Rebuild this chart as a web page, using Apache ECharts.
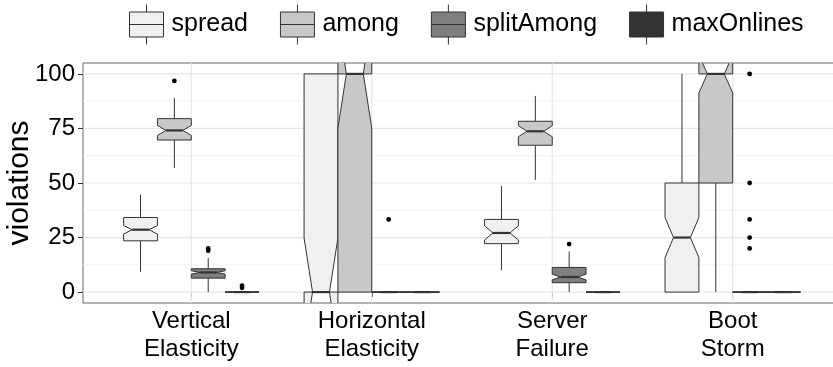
<!DOCTYPE html>
<html>
<head>
<meta charset="utf-8">
<script src="https://cdn.jsdelivr.net/npm/echarts@6/dist/echarts.min.js"></script>
<style>
html, body { margin: 0; padding: 0; background: #fff; }
#chart { width: 833px; height: 367px; }
</style>
</head>
<body>
<div id="chart"></div>
<script>
const categories = ['Vertical\nElasticity', 'Horizontal\nElasticity', 'Server\nFailure', 'Boot\nStorm'];
const groups = ['spread', 'among', 'splitAmong', 'maxOnlines'];
const fills = ['#f0f0f0', '#c8c8c8', '#7f7f7f', '#333333'];

// [lower whisker, q1, median, q3, upper whisker] per category
const spreadStats = [[9.3, 23.5, 28.6, 34.2, 44.6], [0, 0, 0, 100, 100], [10.1, 22.2, 27.1, 33.3, 48.6], [0, 0, 25, 50, 100]];
const amongStats = [[56.9, 69.7, 74.1, 79.5, 89.0], [0, 0, 100, 100, 100], [51.4, 67.3, 73.7, 78.3, 89.9], [0, 50, 100, 100, 100]];
const splitAmongStats = [[0, 6.4, 9.0, 10.7, 15.6], [0, 0, 0, 0, 0], [0, 4.3, 6.9, 11.3, 18.6], [0, 0, 0, 0, 0]];
const maxOnlinesStats = [[0, 0, 0, 0, 0], [0, 0, 0, 0, 0], [0, 0, 0, 0, 0], [0, 0, 0, 0, 0]];

// notch [lower, upper]
const spreadNotch = [[26.6, 30.5], [-24.8, 24.8], [23.9, 30.4], [15.8, 34.2]];
const amongNotch = [[71.8, 76.4], [75.2, 124.8], [71.2, 76.3], [91.3, 108.7]];
const splitAmongNotch = [[8.2, 9.8], [0, 0], [5.6, 8.2], [0, 0]];
const maxOnlinesNotch = [[0, 0], [0, 0], [0, 0], [0, 0]];

// outlier points
const spreadOut = [[], [], [], []];
const amongOut = [[96.8], [], [], []];
const splitAmongOut = [[19, 20], [33.3], [22], [100, 50, 33.3, 25, 20]];
const maxOnlinesOut = [[2, 3], [], [], []];

const yTicks = [0, 25, 50, 75, 100];
const yMinor = [12.5, 37.5, 62.5, 87.5];
const xTicks = [1, 2, 3, 4];

const allStats = [spreadStats, amongStats, splitAmongStats, maxOnlinesStats];
const allNotch = [spreadNotch, amongNotch, splitAmongNotch, maxOnlinesNotch];
const allOut = [spreadOut, amongOut, splitAmongOut, maxOnlinesOut];

const boxWidth = 0.75 / 4;
const offsets = [-1.5, -0.5, 0.5, 1.5].map(k => k * boxWidth);
const ink = '#333333';

function makeBoxRender(gi) {
    return function (params, api) {
        const ci = api.value(0);
        const xc = ci + 1 + offsets[gi];
        const halfW = api.size([boxWidth, 0])[0] / 2;
        const px = api.coord([xc, 0])[0];
        const y = v => api.coord([xc, v])[1];
        const lo = api.value(1), q1 = api.value(2), med = api.value(3), q3 = api.value(4), hi = api.value(5);
        const nlo = api.value(6), nhi = api.value(7);
        const xmin = px - halfW, xmax = px + halfW, ind = halfW * 0.5;
        let children = [];
        children.push({ type: 'line', shape: { x1: px, y1: y(hi), x2: px, y2: y(q3) }, style: { stroke: ink, lineWidth: 1 } });
        children.push({ type: 'line', shape: { x1: px, y1: y(q1), x2: px, y2: y(lo) }, style: { stroke: ink, lineWidth: 1 } });
        children.push({
            type: 'polygon',
            shape: { points: [[xmin, y(q3)], [xmin, y(nhi)], [xmin + ind, y(med)], [xmin, y(nlo)], [xmin, y(q1)],
                              [xmax, y(q1)], [xmax, y(nlo)], [xmax - ind, y(med)], [xmax, y(nhi)], [xmax, y(q3)]] },
            style: { fill: fills[gi], stroke: ink, lineWidth: 1 }
        });
        children.push({ type: 'line', shape: { x1: xmin + ind, y1: y(med), x2: xmax - ind, y2: y(med) }, style: { stroke: ink, lineWidth: 2.2 } });
        allOut[gi][ci].forEach(v => {
            children.push({ type: 'circle', shape: { cx: px, cy: y(v), r: 2.4 }, style: { fill: '#000' } });
        });
        return { type: 'group', children: children };
    };
}

function renderGrid(params, api) {
    let children = [];
    const x0 = api.coord([0.4, 0])[0], x1 = api.coord([4.6, 0])[0];
    const yTop = api.coord([1, 105])[1], yBot = api.coord([1, -5])[1];
    yMinor.forEach(v => {
        const yy = api.coord([1, v])[1];
        children.push({ type: 'line', shape: { x1: x0, y1: yy, x2: x1, y2: yy }, style: { stroke: '#f3f3f3', lineWidth: 1 } });
    });
    yTicks.forEach(v => {
        const yy = api.coord([1, v])[1];
        children.push({ type: 'line', shape: { x1: x0, y1: yy, x2: x1, y2: yy }, style: { stroke: '#e6e6e6', lineWidth: 1.2 } });
    });
    xTicks.forEach(v => {
        const xx = api.coord([v, 0])[0];
        children.push({ type: 'line', shape: { x1: xx, y1: yTop, x2: xx, y2: yBot }, style: { stroke: '#e6e6e6', lineWidth: 1.2 } });
    });
    return { type: 'group', children: children };
}

const legendIcon = 'path://M17,0L17,7.5M0,7.5L34,7.5L34,32.5L0,32.5ZM0,20L34,20M17,32.5L17,40';

let series = [{
    type: 'custom',
    name: 'grid',
    silent: true,
    z: 1,
    renderItem: renderGrid,
    data: [[1, 0]]
}];
groups.forEach((name, gi) => {
    series.push({
        type: 'custom',
        name: name,
        z: 2 + gi,
        clip: true,
        itemStyle: { color: fills[gi] },
        renderItem: makeBoxRender(gi),
        data: allStats[gi].map((s, i) => [i].concat(s, allNotch[gi][i]))
    });
});

const myChart = echarts.init(document.getElementById('chart'));
const option = {
    animation: false,
    textStyle: { fontFamily: 'Liberation Sans' },
    legend: {
        data: groups,
        left: 129,
        top: 4,
        padding: 0,
        itemWidth: 34,
        itemHeight: 40,
        itemGap: 32,
        icon: legendIcon,
        itemStyle: { borderColor: ink, borderWidth: 1 },
        textStyle: { fontSize: 25, color: '#000', fontFamily: 'Liberation Sans', padding: [0, 0, 0, 3] }
    },
    grid: {
        left: 83,
        right: -8,
        top: 63,
        bottom: 64,
        outerBoundsMode: 'none',
        containLabel: false,
        show: true,
        borderColor: '#666',
        borderWidth: 1,
        backgroundColor: '#fff'
    },
    xAxis: {
        type: 'value',
        min: 0.4,
        max: 4.6,
        axisLine: { show: false },
        splitLine: { show: false },
        axisTick: { show: true, customValues: xTicks, length: 5, lineStyle: { color: ink } },
        axisLabel: {
            customValues: xTicks,
            formatter: v => categories[Math.round(v) - 1],
            fontSize: 24,
            lineHeight: 28,
            color: '#000',
            margin: 4,
            fontFamily: 'Liberation Sans'
        }
    },
    yAxis: {
        type: 'value',
        min: -5,
        max: 105,
        name: 'violations',
        nameLocation: 'middle',
        nameGap: 48,
        nameMoveOverlap: false,
        nameTextStyle: { fontSize: 30, color: '#000', fontFamily: 'Liberation Sans' },
        axisLine: { show: false },
        splitLine: { show: false },
        axisTick: { show: true, customValues: yTicks, length: 5, lineStyle: { color: ink } },
        axisLabel: { customValues: yTicks, fontSize: 24, color: '#000', margin: 8, fontFamily: 'Liberation Sans' }
    },
    series: series
};
myChart.setOption(option);
</script>
</body>
</html>
